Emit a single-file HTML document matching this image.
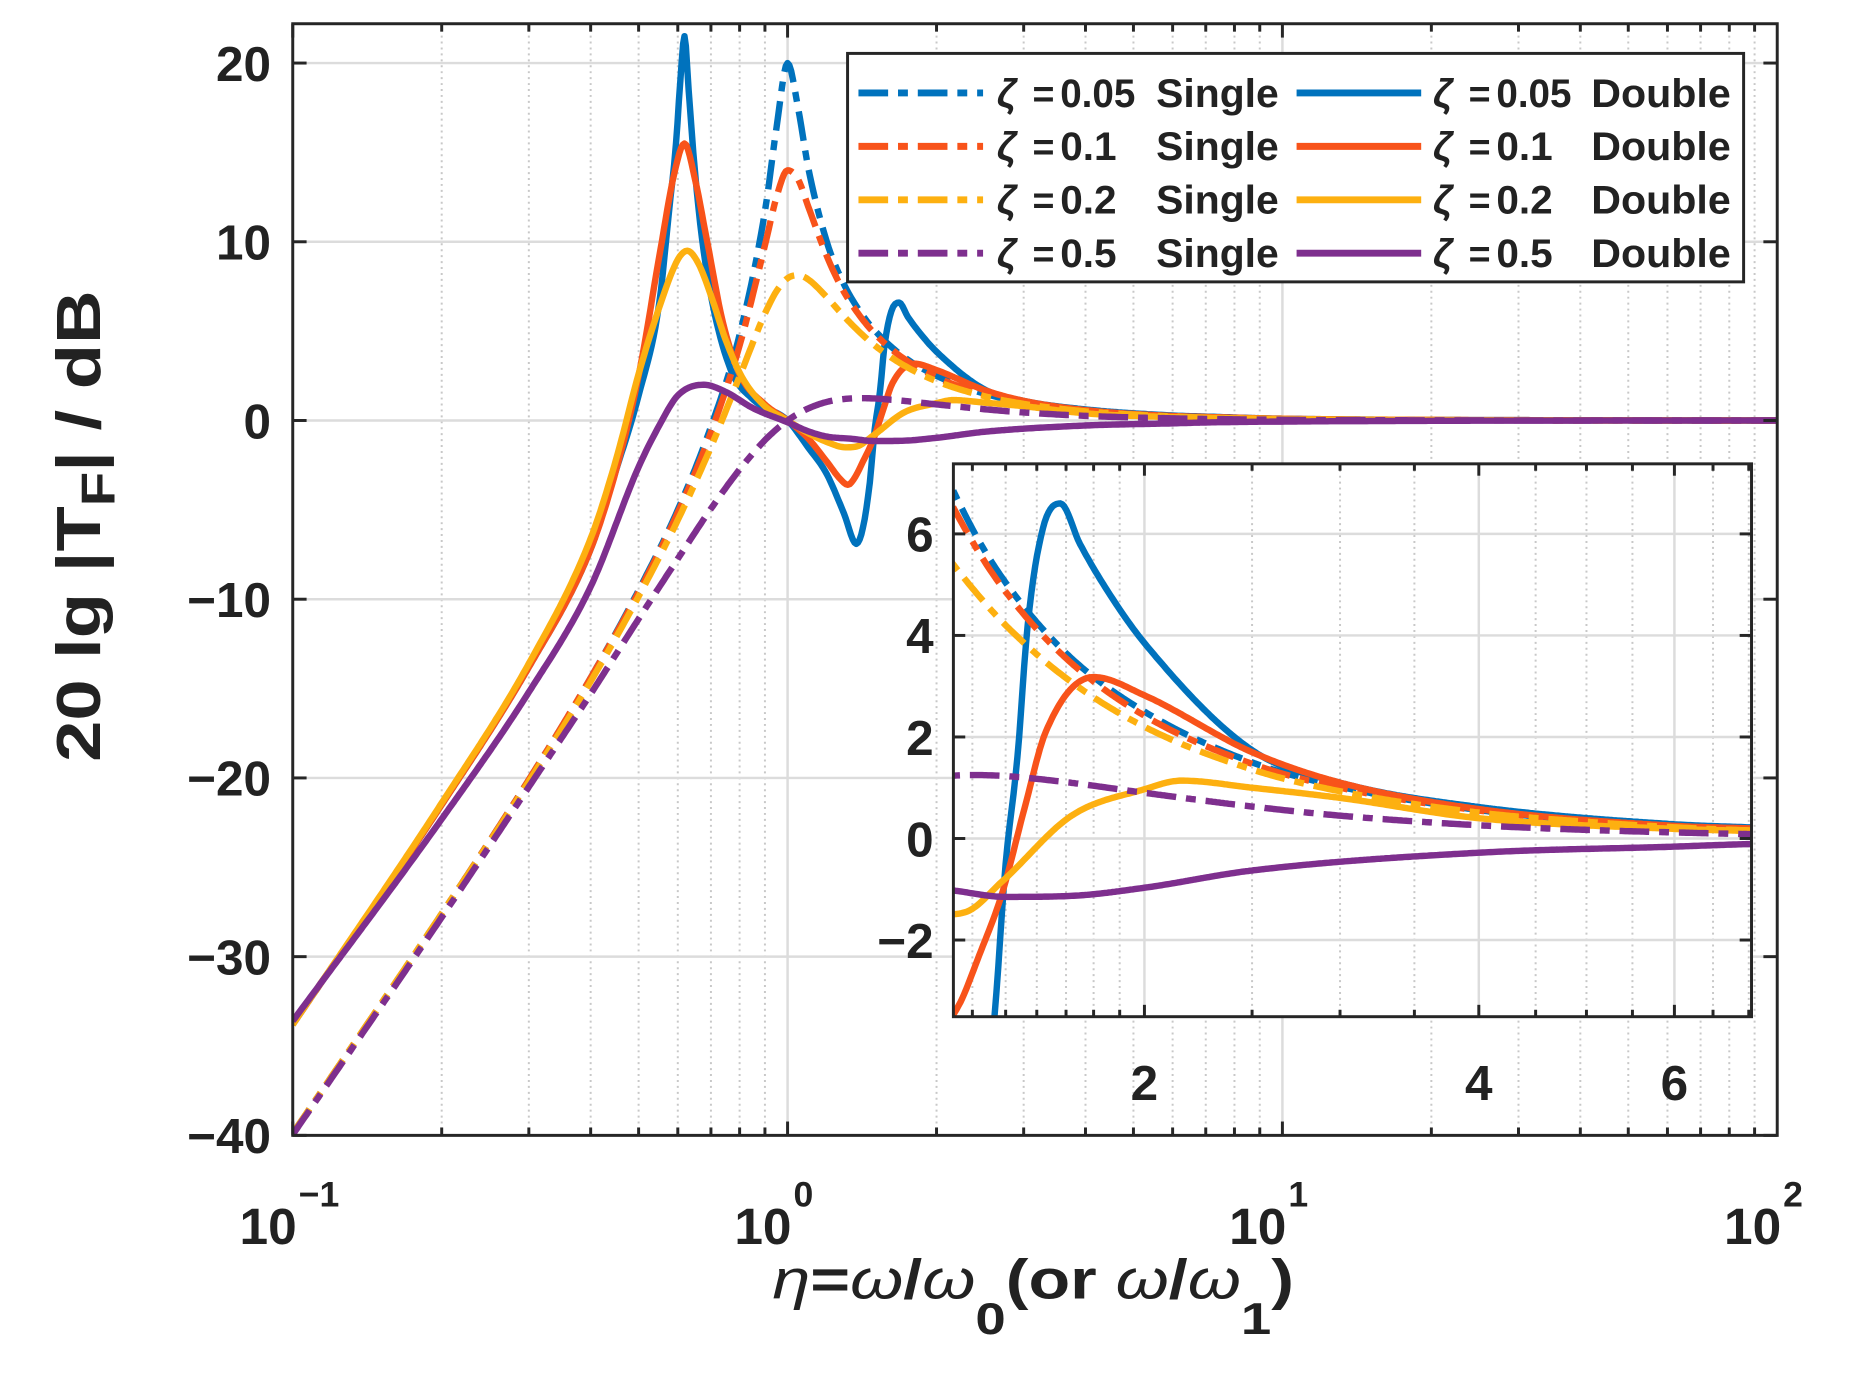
<!DOCTYPE html>
<html><head><meta charset="utf-8"><style>
html,body{margin:0;padding:0;background:#fff;overflow:hidden;width:1864px;height:1379px;}
svg{display:block;position:absolute;left:0;top:0;}
text{font-family:"Liberation Sans",Arial,sans-serif;font-weight:bold;fill:#222;}
</style></head><body>
<svg id="chart" width="1864" height="1379" viewBox="0 0 1864 1379" xmlns="http://www.w3.org/2000/svg" overflow="hidden">
<defs>
<clipPath id="mainClip"><rect x="296" y="24" width="1501" height="1124"/></clipPath>
<clipPath id="insetClip"><rect x="964" y="469" width="807" height="559"/></clipPath>
</defs>
<rect x="0" y="0" width="1864" height="1379" fill="#fff"/>
<g id="root" transform="scale(0.989)">
<g id="mainGrid"></g>
<g id="mainLines" clip-path="url(#mainClip)"></g>
<g id="mainAxes"></g>
<g id="inset"></g>
<g id="legend"></g>
<text transform="translate(781,1313) scale(1.38,1.12)" x="0" y="0" font-size="50" font-weight="bold"><tspan font-style="italic" font-weight="normal">η</tspan>=<tspan font-style="italic" font-weight="normal">ω</tspan>/<tspan font-style="italic" font-weight="normal">ω</tspan><tspan dy="32" font-size="40">0</tspan><tspan dy="-32">(or </tspan><tspan font-style="italic" font-weight="normal">ω</tspan>/<tspan font-style="italic" font-weight="normal">ω</tspan><tspan dy="32" font-size="40">1</tspan><tspan dy="-32">)</tspan></text>
<text transform="translate(101,532) rotate(-90) scale(1.5,1.25)" x="0" y="0" text-anchor="middle" font-size="50">20 lg |T<tspan dy="12" font-size="38">F</tspan><tspan dy="-12">| / dB</tspan></text>
</g>
</svg>
<script>
// ---- data ----
const etaSingle = [0.1,0.2,0.3,0.4,0.5,0.6,0.7,0.8,0.9,0.95,1.0,1.05,1.1,1.2,1.3,1.4,1.5,1.7,2,2.5,3,4,5,6,7,10,30,100];
const single005 = [-39.9,-27.6,-20.1,-14.4,-9.5,-5.0,-0.35,4.8,11.7,16.4,20,17.5,14.2,10.0,7.63,6.1,5.04,3.65,2.5,1.5,1.02,0.56,0.35,0.245,0.18,0.09,0.01,0];
const single01  = [-39.9,-27.6,-20.1,-14.4,-9.6,-5.15,-0.66,4.2,9.8,12.5,14.0,13.5,12.0,9.2,7.2,5.85,4.86,3.55,2.42,1.47,1.0,0.55,0.35,0.24,0.18,0.09,0.01,0];
const single02  = [-39.9,-27.6,-20.2,-14.6,-9.84,-5.57,-1.49,2.47,5.98,7.24,7.96,8.13,7.9,6.9,5.83,4.93,4.2,3.16,2.2,1.36,0.93,0.51,0.33,0.22,0.16,0.08,0.01,0];
const single05  = [-39.96,-27.8,-20.5,-15.3,-11.1,-7.74,-4.94,-2.74,-1.1,-0.49,0,0.38,0.67,1.04,1.2,1.25,1.23,1.11,0.9,0.63,0.45,0.26,0.17,0.12,0.087,0.04,0.005,0];

const etaDouble005 = [0.1,0.2,0.3,0.4,0.45,0.5,0.55,0.575,0.595,0.607,0.619,0.631,0.645,0.666,0.7,0.766,0.85,1,1.1,1.2,1.3,1.377,1.42,1.466,1.5,1.537,1.57,1.62,1.68,1.75,1.85,2,2.5,3,4,6,7,10,30,100];
const double005    = [-33.8,-21.5,-13.8,-7.2,-2.8,1.4,6.5,11.5,15.5,19,21.5,18.5,15,11,7,2.9,1.2,0,-1.5,-3.0,-5.2,-6.9,-6.0,-3.47,-0.5,1.6,4.2,6.1,6.6,5.8,4.9,3.85,1.74,1.1,0.62,0.28,0.22,0.1,0.02,0];
const etaDouble01  = [0.1,0.2,0.3,0.4,0.45,0.5,0.553,0.59,0.619,0.65,0.688,0.74,0.8,0.9,1,1.1,1.2,1.28,1.324,1.36,1.42,1.49,1.56,1.63,1.8,2,2.5,3,4,6,7,10,30,100];
const double01     = [-33.8,-21.5,-13.8,-7.2,-2.8,2.5,9.5,13.8,15.5,13.5,10,5.5,2.6,0.9,0,-1.0,-2.3,-3.3,-3.6,-3.3,-2.3,-1.06,0.6,2.1,3.18,2.82,1.7,1.1,0.58,0.25,0.2,0.1,0.02,0];
const etaDouble02  = [0.1,0.2,0.3,0.4,0.45,0.5,0.55,0.6,0.627,0.66,0.7,0.75,0.81,0.9,1,1.1,1.2,1.31,1.38,1.49,1.72,2,2.16,2.5,3,4,6,7,10,30,100];
const double02     = [-33.8,-21.4,-13.6,-6.6,-2.2,2.6,6.3,9,9.5,8.8,7,4.5,2.4,0.8,0,-0.7,-1.2,-1.5,-1.45,-0.84,0.45,0.97,1.14,1.0,0.8,0.4,0.19,0.15,0.08,0.01,0];
const etaDouble05  = [0.1,0.2,0.3,0.4,0.5,0.55,0.6,0.677,0.75,0.85,1,1.1,1.2,1.342,1.5,1.72,2,2.5,4,6,7,10,30,100];
const double05     = [-33.6,-22.3,-15.2,-9.3,-2.6,-0.3,1.4,2.0,1.6,0.7,-0.1,-0.6,-0.9,-1.02,-1.15,-1.13,-0.97,-0.63,-0.28,-0.16,-0.11,-0.06,-0.01,0];

const mainYTicks = [20,10,0,-10,-20,-30,-40];
const mainXTickExps = [-1,0,1,2];
const insetYTicks = [6,4,2,0,-2];
const insetXTicks = [2,4,6];

const seriesColors = {z005:'#0072BD', z01:'#F8531A', z02:'#FDB010', z05:'#7E2F8E'};
const legendLabels = ['0.05','0.1','0.2','0.5'];

// ---- axes ----
const M = {l:296, r:1797, t:24, b:1148, x0:-1, x1:2, y0:-40, y1:22.2};
const I = {l:964, r:1771, t:469, b:1028, x0:Math.log10(1.346), x1:Math.log10(7.04), y0:-3.51, y1:7.38};
function sx(ax, eta){ return ax.l + (Math.log10(eta)-ax.x0)/(ax.x1-ax.x0)*(ax.r-ax.l); }
function sy(ax, v){ return ax.b - (v-ax.y0)/(ax.y1-ax.y0)*(ax.b-ax.t); }
const NS='http://www.w3.org/2000/svg';
function mk(tag, attrs, parent){ const e=document.createElementNS(NS,tag); for(const k in attrs) e.setAttribute(k,attrs[k]); parent.appendChild(e); return e; }

function curvePoints(ax, etas, vals){
  const xs=etas.map(e=>sx(ax,e)), ys=vals.map(v=>sy(ax,v));
  const n=xs.length, d=[], m=new Array(n);
  for(let i=0;i<n-1;i++) d.push((ys[i+1]-ys[i])/(xs[i+1]-xs[i]));
  m[0]=d[0]; m[n-1]=d[n-2];
  for(let i=1;i<n-1;i++){ m[i]=(d[i-1]*d[i]<=0)?0:(d[i-1]+d[i])/2; }
  for(let i=0;i<n-1;i++){ if(d[i]===0){m[i]=0;m[i+1]=0;continue;} const a=m[i]/d[i], b=m[i+1]/d[i], s=a*a+b*b; if(s>9){const t=3/Math.sqrt(s); m[i]=t*a*d[i]; m[i+1]=t*b*d[i];} }
  const pts=[];
  for(let i=0;i<n-1;i++){
    const h=xs[i+1]-xs[i], steps=Math.max(2,Math.ceil(h/2));
    for(let k=0;k<steps;k++){ const t=k/steps, t2=t*t, t3=t2*t;
      const y=(2*t3-3*t2+1)*ys[i]+(t3-2*t2+t)*h*m[i]+(-2*t3+3*t2)*ys[i+1]+(t3-t2)*h*m[i+1];
      pts.push([xs[i]+t*h,y]); }
  }
  pts.push([xs[n-1],ys[n-1]]);
  return pts.map(p=>p[0].toFixed(1)+','+p[1].toFixed(1)).join(' ');
}
const DASH='30 10 10 10';
const LW=6.5;
const seriesList = [
  {key:'single-005', eta:etaSingle, v:single005, c:seriesColors.z005, dash:true},
  {key:'double-005', eta:etaDouble005, v:double005, c:seriesColors.z005, dash:false},
  {key:'single-01', eta:etaSingle, v:single01, c:seriesColors.z01, dash:true},
  {key:'double-01', eta:etaDouble01, v:double01, c:seriesColors.z01, dash:false},
  {key:'single-02', eta:etaSingle, v:single02, c:seriesColors.z02, dash:true},
  {key:'double-02', eta:etaDouble02, v:double02, c:seriesColors.z02, dash:false},
  {key:'single-05', eta:etaSingle, v:single05, c:seriesColors.z05, dash:true},
  {key:'double-05', eta:etaDouble05, v:double05, c:seriesColors.z05, dash:false}
];

const g=document.getElementById('mainGrid');
for(let e=M.x0;e<M.x1;e++){ for(let k=2;k<10;k++){ const x=sx(M,k*Math.pow(10,e));
  const ln=mk('line',{x1:x,y1:M.t,x2:x,y2:M.b,stroke:'#c8c8c8','stroke-width':2,'stroke-dasharray':'2 4'},g);
  
   } }
mainXTickExps.forEach(e=>{ const x=sx(M,Math.pow(10,e));
  const ln=mk('line',{x1:x,y1:M.t,x2:x,y2:M.b,stroke:'#dcdcdc','stroke-width':2.5},g);
  
   });
mainYTicks.forEach(v=>{ const y=sy(M,v);
  const ln=mk('line',{x1:M.l,y1:y,x2:M.r,y2:y,stroke:'#dcdcdc','stroke-width':2.5},g);
  
   });

const ml=document.getElementById('mainLines');
seriesList.forEach(s=>{
  const p=mk('polyline',{points:curvePoints(M,s.eta,s.v),fill:'none',stroke:s.c,'stroke-width':LW,'stroke-linejoin':'round'},ml);
  if(s.dash) p.setAttribute('stroke-dasharray',DASH);
  
  
});

const ax=document.getElementById('mainAxes');
const box=mk('rect',{x:M.l,y:M.t,width:M.r-M.l,height:M.b-M.t,fill:'none',stroke:'#262626','stroke-width':3},ax);


for(let e=M.x0;e<M.x1;e++){ for(let k=1;k<10;k++){ const x=sx(M,k*Math.pow(10,e)); const L=(k===1)?14:8;
  const t1=mk('line',{x1:x,y1:M.b,x2:x,y2:M.b-L,stroke:'#262626','stroke-width':3},ax);
  
  
  const t2=mk('line',{x1:x,y1:M.t,x2:x,y2:M.t+L,stroke:'#262626','stroke-width':3},ax);
  
   } }
mainYTicks.forEach(v=>{ const y=sy(M,v);
  const t1=mk('line',{x1:M.l,y1:y,x2:M.l+14,y2:y,stroke:'#262626','stroke-width':3},ax);
  
  
  const t2=mk('line',{x1:M.r,y1:y,x2:M.r-14,y2:y,stroke:'#262626','stroke-width':3},ax);
  
  
  const tx=mk('text',{x:274,y:y+18,'text-anchor':'end','font-size':50},ax);
  tx.textContent=(v<0?'\u2212'+(-v):String(v));
  
   });
mainXTickExps.forEach(e=>{ const x=sx(M,Math.pow(10,e));
  const tx=mk('text',{x:x+4,y:1258,'text-anchor':'end','font-size':52},ax);
  tx.textContent='10';
  
  
  const ex=mk('text',{x:x+6,y:1220,'font-size':36},ax);
  ex.textContent=(e<0?'\u2212'+(-e):String(e));
  
   });

const ins=document.getElementById('inset');
const ibg=mk('rect',{x:I.l,y:I.t,width:I.r-I.l,height:I.b-I.t,fill:'#fff'},ins);


const insetMinor=[1.4,1.5,1.6,1.7,1.8,1.9,2.5,3,3.5,4.5,5,5.5,6.5,7];
insetMinor.forEach(v=>{ const x=sx(I,v);
  const ln=mk('line',{x1:x,y1:I.t,x2:x,y2:I.b,stroke:'#c8c8c8','stroke-width':2,'stroke-dasharray':'2 4'},ins);
  
   });
insetXTicks.forEach(v=>{ const x=sx(I,v);
  const ln=mk('line',{x1:x,y1:I.t,x2:x,y2:I.b,stroke:'#dcdcdc','stroke-width':2.5},ins);
  
  
  const tx=mk('text',{x:x,y:1112,'text-anchor':'middle','font-size':50},ins);
  tx.textContent=String(v);
  
   });
insetYTicks.forEach(v=>{ const y=sy(I,v);
  const ln=mk('line',{x1:I.l,y1:y,x2:I.r,y2:y,stroke:'#dcdcdc','stroke-width':2.5},ins);
  
  
  const tx=mk('text',{x:944,y:y+18,'text-anchor':'end','font-size':50},ins);
  tx.textContent=(v<0?'\u2212'+(-v):String(v));
  
   });
const il=mk('g',{'clip-path':'url(#insetClip)'},ins);


seriesList.forEach(s=>{
  const p=mk('polyline',{points:curvePoints(I,s.eta,s.v),fill:'none',stroke:s.c,'stroke-width':LW,'stroke-linejoin':'round'},il);
  if(s.dash) p.setAttribute('stroke-dasharray',DASH);
  
  
});
insetXTicks.concat(insetMinor).forEach(v=>{ const x=sx(I,v); const L=insetXTicks.includes(v)?12:7;
  const t1=mk('line',{x1:x,y1:I.b,x2:x,y2:I.b-L,stroke:'#262626','stroke-width':3},ins);
  
  
  const t2=mk('line',{x1:x,y1:I.t,x2:x,y2:I.t+L,stroke:'#262626','stroke-width':3},ins);
  
   });
insetYTicks.forEach(v=>{ const y=sy(I,v);
  const t1=mk('line',{x1:I.l,y1:y,x2:I.l+12,y2:y,stroke:'#262626','stroke-width':3},ins);
  
  
  const t2=mk('line',{x1:I.r,y1:y,x2:I.r-12,y2:y,stroke:'#262626','stroke-width':3},ins);
  
   });
const ibox=mk('rect',{x:I.l,y:I.t,width:I.r-I.l,height:I.b-I.t,fill:'none',stroke:'#262626','stroke-width':3},ins);



const lg=document.getElementById('legend');
const lbox=mk('rect',{x:857,y:54,width:906,height:231,fill:'#fff',stroke:'#262626','stroke-width':3},lg);


const rowsY=[94,148,202,256];
const cols=[{lx:868,tx:1008,word:'Single',wx:1169,ww:124,dash:true},{lx:1311,tx:1449,word:'Double',wx:1609,ww:141,dash:false}];
const colorKeys=['z005','z01','z02','z05'];
rowsY.forEach((y,i)=>{ cols.forEach(c=>{
  const entry=mk('g',{},lg);
  
  
  const ln=mk('line',{x1:c.lx,y1:y,x2:c.lx+126,y2:y,stroke:seriesColors[colorKeys[i]],'stroke-width':7},entry);
  if(c.dash) ln.setAttribute('stroke-dasharray',DASH);
  
  
  const z=mk('text',{x:c.tx,y:y+14,'font-size':40,'font-style':'italic','font-weight':'normal'},entry);
  z.textContent='\u03B6';
  
  
  const eq=mk('text',{x:c.tx+36,y:y+14,'font-size':38},entry);
  eq.textContent='=';
  
  
  const nm=mk('text',{x:c.tx+64,y:y+14,'font-size':40,textLength:(legendLabels[i].length*19),lengthAdjust:'spacingAndGlyphs'},entry);
  nm.textContent=legendLabels[i];
  
  
  const wd=mk('text',{x:c.wx,y:y+14,'font-size':40,textLength:c.ww,lengthAdjust:'spacingAndGlyphs'},entry);
  wd.textContent=c.word;
  
  
}); });
</script>
</body></html>
